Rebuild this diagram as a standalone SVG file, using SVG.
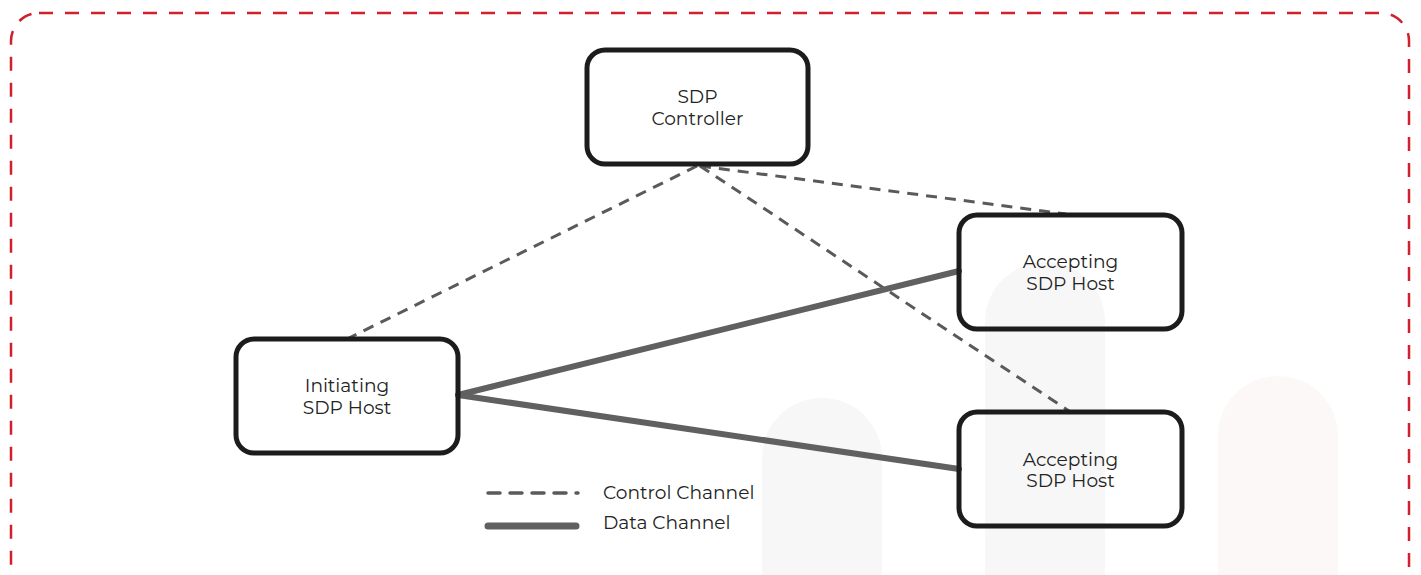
<svg xmlns="http://www.w3.org/2000/svg" width="1421" height="575" viewBox="0 0 1421 575">
<style>
.pill{stroke:none}
.box{fill:none;stroke:#1c1c1c;stroke-width:5}
.lbl{font-family:Montserrat,"Noto Sans","Liberation Sans",sans-serif;font-size:18.6px;fill:#222;text-anchor:middle}
.ctl{stroke:#5a5a5a;stroke-width:3;stroke-dasharray:11 8;fill:none}
.dat{stroke:#606060;stroke-width:6;fill:none;stroke-linecap:round}
.leg{font-family:Montserrat,"Noto Sans","Liberation Sans",sans-serif;font-size:18.6px;fill:#222}
</style>
<rect width="1421" height="575" fill="#ffffff"/>
<g id="background">
<path class="pill" d="M762 600 V458 a60 60 0 0 1 120 0 V600 Z" fill="#f7f7f7"/>
<path class="pill" d="M985 600 V322 a60 60 0 0 1 120 0 V600 Z" fill="#f7f7f7"/>
<path class="pill" d="M1218 600 V436 a60 60 0 0 1 120 0 V600 Z" fill="#fcf8f8"/>
</g>
<rect id="frame" x="11" y="13" width="1398" height="600" rx="28" fill="none" stroke="#d0202e" stroke-width="2.5" stroke-dasharray="14 12"/>
<g id="connectors">
<line class="ctl" x1="697" y1="166" x2="349" y2="338"/>
<line class="ctl" x1="700" y1="166" x2="1066" y2="214"/>
<line class="ctl" x1="700" y1="166" x2="1069" y2="411"/>
<line class="dat" x1="458" y1="395" x2="959" y2="271"/>
<line class="dat" x1="458" y1="395" x2="959" y2="469"/>
</g>
<g id="controller">
<rect class="box" x="587" y="50" width="221" height="114" rx="18"/>
<text class="lbl" x="697.5" y="103">SDP</text>
<text class="lbl" x="697.5" y="125">Controller</text>
</g>
<g id="initiating">
<rect class="box" x="236" y="339" width="222" height="114" rx="18"/>
<text class="lbl" x="347" y="392">Initiating</text>
<text class="lbl" x="347" y="414">SDP Host</text>
</g>
<g id="accepting1">
<rect class="box" x="959" y="215" width="223" height="114" rx="18"/>
<text class="lbl" x="1070.5" y="268">Accepting</text>
<text class="lbl" x="1070.5" y="290">SDP Host</text>
</g>
<g id="accepting2">
<rect class="box" x="959" y="412" width="223" height="114" rx="18"/>
<text class="lbl" x="1070.5" y="466">Accepting</text>
<text class="lbl" x="1070.5" y="487">SDP Host</text>
</g>
<g id="legend">
<line x1="488" y1="493" x2="578" y2="493" stroke="#5a5a5a" stroke-width="3.5" stroke-dasharray="12 10" stroke-linecap="round"/>
<line x1="488" y1="526" x2="576" y2="526" stroke="#606060" stroke-width="7" stroke-linecap="round"/>
<text class="leg" x="603" y="499">Control Channel</text>
<text class="leg" x="603" y="529">Data Channel</text>
</g>
</svg>
